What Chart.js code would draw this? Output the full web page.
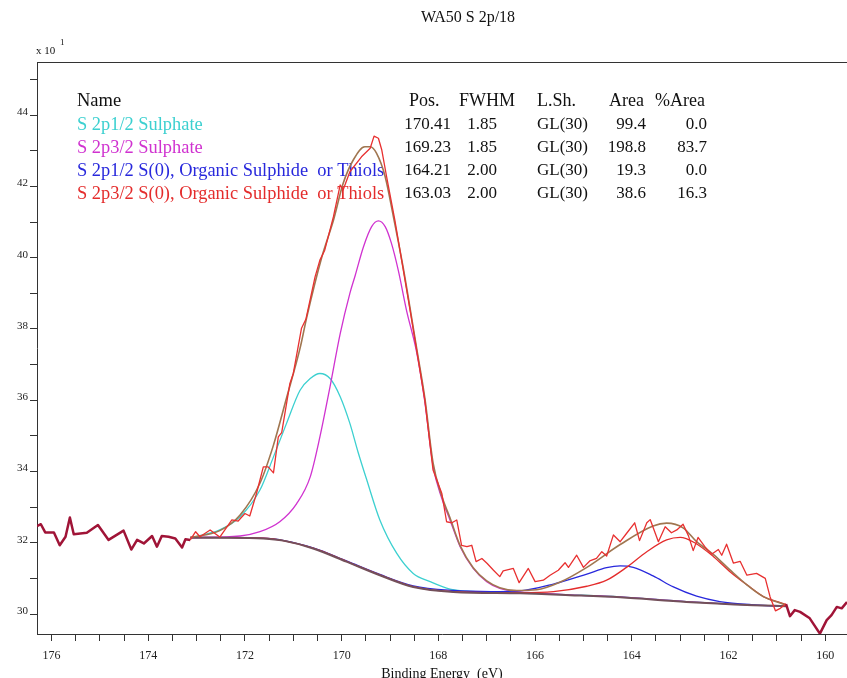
<!DOCTYPE html>
<html>
<head>
<meta charset="utf-8">
<script src="https://cdn.jsdelivr.net/npm/chart.js@4.4.0/dist/chart.umd.min.js"></script>
<style>
  body { margin: 0; background: #fff; }
  #wrap { width: 847px; height: 678px; }
</style>
</head>
<body>
<div id="wrap"><canvas id="lineChart-s2p" width="847" height="678"></canvas></div>
<script>
// tick labels
const xTickLabels = [176, 174, 172, 170, 168, 166, 164, 162, 160];
const yTickLabels = [30, 32, 34, 36, 38, 40, 42, 44];

// fit table
const compNames = ['S 2p1/2 Sulphate', 'S 2p3/2 Sulphate',
  'S 2p1/2 S(0), Organic Sulphide  or Thiols', 'S 2p3/2 S(0), Organic Sulphide  or Thiols'];
const compPos = ['170.41', '169.23', '164.21', '163.03'];
const compFwhm = ['1.85', '1.85', '2.00', '2.00'];
const compShape = ['GL(30)', 'GL(30)', 'GL(30)', 'GL(30)'];
const compArea = ['99.4', '198.8', '19.3', '38.6'];
const compPct = ['0.0', '83.7', '0.0', '16.3'];

// region of the fit (eV)
const fitStart = 173.13;
const fitEnd = 160.81;

// measured spectrum, counts x10^1
const rawEnergy = [176.30, 176.22, 176.13, 175.95, 175.83, 175.71, 175.62, 175.54, 175.27, 175.04,
  174.82, 174.51, 174.35, 174.23, 174.09, 173.92, 173.82, 173.72, 173.58, 173.44, 173.30, 173.23, 173.13,
  173.02, 172.93, 172.72, 172.52, 172.27, 172.14, 172.00, 171.90, 171.76, 171.62, 171.52, 171.41,
  171.31, 171.24, 171.07, 171.00, 170.83, 170.74, 170.55, 170.45, 170.35, 170.17, 170.03, 169.97,
  169.83, 169.59, 169.41, 169.33, 169.24, 169.17, 169.07, 168.90, 168.76, 168.62, 168.45, 168.28,
  168.11, 167.93, 167.83, 167.72, 167.62, 167.52, 167.41, 167.31, 167.22, 167.10, 166.99, 166.86,
  166.73, 166.66, 166.45, 166.33, 166.14, 166.00, 165.83, 165.69, 165.52, 165.38, 165.31, 165.14,
  165.00, 164.87, 164.73, 164.62, 164.52, 164.38, 164.24, 164.11, 163.94, 163.84, 163.69, 163.62,
  163.45, 163.31, 163.18, 163.07, 162.94, 162.83, 162.73, 162.63, 162.49, 162.35, 162.21, 162.14,
  162.04, 161.90, 161.76, 161.62, 161.42, 161.24, 161.14, 161.03, 160.93, 160.81,
  160.73, 160.63, 160.52, 160.32, 160.11, 159.97, 159.87, 159.76, 159.66, 159.55];
const rawCounts = [32.47, 32.52, 32.29, 32.29, 31.93, 32.17, 32.71, 32.24, 32.28, 32.50,
  32.08, 32.34, 31.81, 32.08, 31.98, 32.19, 31.89, 32.19, 32.17, 32.12, 31.87, 32.10, 32.08,
  32.31, 32.17, 32.36, 32.16, 32.64, 32.61, 32.82, 32.75, 33.39, 34.13, 34.13, 33.96,
  34.97, 35.09, 36.47, 36.75, 38.02, 38.27, 39.46, 39.93, 40.21, 41.15, 42.04, 41.90,
  42.41, 42.83, 43.07, 43.41, 43.35, 43.02, 42.27, 41.05, 39.93, 38.81, 37.41, 36.00,
  34.04, 33.39, 32.59, 32.56, 32.64, 31.93, 31.89, 31.93, 31.47, 31.56, 31.42, 31.23,
  31.05, 31.21, 31.28, 30.88, 31.28, 30.91, 30.95, 31.09, 31.23, 31.44, 31.31, 31.65,
  31.31, 31.49, 31.56, 31.75, 31.63, 32.22, 32.03, 32.26, 32.56, 32.06, 32.56, 32.65,
  32.03, 32.45, 32.28, 32.36, 32.52, 32.20, 31.78, 32.15, 31.89, 31.68, 31.81, 31.65,
  31.96, 31.43, 31.48, 31.09, 31.14, 31.00, 30.48, 30.09, 30.16, 30.28,
  29.94, 30.11, 30.06, 29.88, 29.45, 29.83, 29.97, 30.20, 30.16, 30.34];

// envelope of the fit
const envEnergy = [173.13, 172.52, 172.10, 171.69, 171.41, 171.14, 170.86, 170.72, 170.41, 170.17,
  169.97, 169.76, 169.52, 169.41, 169.28, 169.10, 168.93, 168.73, 168.59, 168.45, 168.28, 168.11,
  167.93, 167.76, 167.55, 167.28, 167.00, 166.73, 166.38, 165.97, 165.49, 164.93, 164.24, 163.56,
  163.28, 162.94, 162.66, 162.31, 161.97, 161.62, 161.28, 160.93, 160.81];
const envCounts = [32.15, 32.34, 32.78, 33.67, 34.74, 36.06, 37.46, 38.34, 40.02, 41.05,
  42.08, 42.74, 43.11, 43.11, 42.93, 42.27, 41.15, 39.74, 38.62, 37.46, 36.06, 34.24,
  33.31, 32.70, 31.92, 31.30, 30.93, 30.74, 30.66, 30.68, 30.89, 31.31, 31.95, 32.47,
  32.55, 32.42, 32.03, 31.67, 31.24, 30.82, 30.49, 30.31, 30.25];

// Shirley background
const bgEnergy = [173.13, 172.31, 171.62, 171.21, 170.59, 169.90, 169.21, 168.52, 167.69, 166.31,
  165.28, 164.24, 162.87, 161.49, 160.81];
const bgCounts = [32.14, 32.14, 32.12, 32.06, 31.84, 31.47, 31.09, 30.76, 30.62, 30.58,
  30.53, 30.47, 30.34, 30.25, 30.22];

// components (each drawn on top of the background)
const cyanEnergy = [173.13, 172.93, 172.52, 172.10, 171.69, 171.41, 171.14, 170.86, 170.65, 170.45,
  170.24, 170.03, 169.83, 169.66, 169.48, 169.21, 168.86, 168.52, 168.17, 167.76, 167.41, 166.73,
  166.31, 165.28, 164.24, 162.87, 161.49, 160.81];
const cyanCounts = [32.14, 32.20, 32.36, 32.73, 33.48, 34.41, 35.35, 36.28, 36.61, 36.75,
  36.61, 36.10, 35.35, 34.54, 33.76, 32.64, 31.70, 31.14, 30.91, 30.70, 30.64, 30.61,
  30.59, 30.54, 30.48, 30.35, 30.25, 30.22];

const magEnergy = [173.13, 172.10, 171.69, 171.28, 170.93, 170.65, 170.45, 170.24, 170.03, 169.83,
  169.72, 169.55, 169.38, 169.24, 169.10, 168.97, 168.83, 168.66, 168.45, 168.28, 168.11, 167.93,
  167.76, 167.55, 167.28, 167.00, 166.73, 166.38, 166.04, 165.28, 164.24, 162.87, 161.49, 160.81];
const magCounts = [32.14, 32.19, 32.31, 32.59, 33.10, 33.85, 34.97, 36.38, 37.87, 39.00,
  39.50, 40.30, 40.87, 41.03, 40.87, 40.40, 39.65, 38.53, 37.35, 35.95, 34.15, 33.25,
  32.64, 31.89, 31.28, 30.91, 30.72, 30.63, 30.60, 30.54, 30.48, 30.35, 30.25, 30.22];

const blueEnergy = [173.13, 171.62, 170.59, 169.90, 169.21, 168.52, 167.69, 166.90, 166.31, 165.62,
  164.93, 164.52, 164.24, 163.97, 163.56, 163.14, 162.66, 162.18, 161.49, 160.81];
const blueCounts = [32.15, 32.13, 31.86, 31.49, 31.11, 30.79, 30.66, 30.63, 30.65, 30.84,
  31.12, 31.30, 31.35, 31.31, 31.07, 30.76, 30.50, 30.35, 30.26, 30.22];

const redEnergy = [173.13, 171.62, 170.59, 169.90, 169.21, 168.52, 167.69, 166.31, 165.62, 164.93,
  164.52, 164.11, 163.69, 163.28, 163.00, 162.70, 162.31, 161.97, 161.62, 161.28, 160.93, 160.81];
const redCounts = [32.15, 32.13, 31.85, 31.48, 31.10, 30.77, 30.63, 30.60, 30.63, 30.78,
  30.95, 31.31, 31.75, 32.08, 32.15, 32.00, 31.61, 31.19, 30.82, 30.49, 30.32, 30.27];

const serif = 'Liberation Serif';
const compColors = ['rgb(60,208,208)', 'rgb(208,50,208)', 'rgb(40,40,220)', 'rgb(228,44,44)'];

function toPoints(energy, counts) {
    return energy.map((e, i) => ({ x: e, y: counts[i] }));
}

function inFit(c) {
    return c.p0.parsed.x <= fitStart + 1e-6 && c.p1.parsed.x >= fitEnd - 1e-6;
}

function smoothLine(label, energy, counts, color, width) {
    return {
        label: label,
        data: toPoints(energy, counts),
        borderColor: color,
        borderWidth: width,
        pointRadius: 0,
        cubicInterpolationMode: 'monotone',
        fill: false,
    };
}

// texts: title, exponent, axis title, fit table
const textPlugin = {
    id: 'casaText',
    beforeDatasetsDraw(chart) {
        const ctx = chart.ctx;
        ctx.save();
        ctx.textBaseline = 'middle';
        ctx.fillStyle = '#111';
        ctx.textAlign = 'left';
        ctx.font = '18.5px "' + serif + '"';
        ctx.fillText('Name', 77, 101);
        ctx.font = '18px "' + serif + '"';
        ctx.fillText('Pos.', 409, 101);
        ctx.fillText('FWHM', 459, 101);
        ctx.fillText('L.Sh.', 537, 101);
        ctx.fillText('Area', 609, 101);
        ctx.fillText('%Area', 655, 101);
        for (let i = 0; i < compNames.length; i++) {
            let y = 125 + i * 23;
            ctx.font = '18.4px "' + serif + '"';
            ctx.textAlign = 'left';
            ctx.fillStyle = compColors[i];
            ctx.fillText(compNames[i], 77, y);
            ctx.font = '17px "' + serif + '"';
            ctx.fillStyle = '#111';
            ctx.textAlign = 'right';
            ctx.fillText(compPos[i], 451, y);
            ctx.fillText(compFwhm[i], 497, y);
            ctx.fillText(compArea[i], 646, y);
            ctx.fillText(compPct[i], 707, y);
            ctx.textAlign = 'left';
            ctx.fillText(compShape[i], 537, y);
        }
        ctx.restore();
    },
    afterDraw(chart) {
        const ctx = chart.ctx;
        const area = chart.chartArea;
        ctx.save();
        // top frame line
        ctx.strokeStyle = '#333';
        ctx.lineWidth = 1;
        ctx.beginPath();
        ctx.moveTo(area.left, area.top + 0.5);
        ctx.lineTo(area.right, area.top + 0.5);
        ctx.stroke();

        ctx.fillStyle = '#111';
        ctx.textBaseline = 'middle';
        ctx.textAlign = 'center';
        ctx.font = '16px "' + serif + '"';
        ctx.fillText('WA50 S 2p/18', 468, 18);
        ctx.font = '14px "' + serif + '"';
        ctx.fillText('Binding Energy  (eV)', (area.left + area.right) / 2, 674);
        ctx.textAlign = 'left';
        ctx.font = '11px "' + serif + '"';
        ctx.fillText('x 10', 36, 51);
        ctx.font = '9px "' + serif + '"';
        ctx.fillText('1', 60, 43);
        ctx.restore();
    }
};

let lineCtx_s2p = document.getElementById('lineChart-s2p');
let lineConfig_s2p = {
    type: 'line',
    data: {
        datasets: [{
            label: 'Data',
            data: toPoints(rawEnergy, rawCounts),
            borderColor: 'rgb(160,20,55)',
            borderWidth: 2.5,
            pointRadius: 0,
            tension: 0,
            segment: {
                borderColor: c => inFit(c) ? 'rgb(232,48,48)' : 'rgb(160,20,55)',
                borderWidth: c => inFit(c) ? 1.3 : 2.5,
            },
        },
            smoothLine('Envelope', envEnergy, envCounts, 'rgb(160,118,80)', 1.6),
            smoothLine('Background', bgEnergy, bgCounts, 'rgb(115,80,90)', 2),
            smoothLine(compNames[3], redEnergy, redCounts, compColors[3], 1.3),
            smoothLine(compNames[2], blueEnergy, blueCounts, compColors[2], 1.3),
            smoothLine(compNames[1], magEnergy, magCounts, compColors[1], 1.3),
            smoothLine(compNames[0], cyanEnergy, cyanCounts, compColors[0], 1.3),
        ]
    },
    options: {
        responsive: false,
        animation: false,
        layout: { padding: { top: 62, left: 0, right: 0, bottom: 0 } },
        plugins: { legend: { display: false }, tooltip: { enabled: false } },
        elements: { line: { borderJoinStyle: 'round' } },
        scales: {
            x: {
                type: 'linear',
                reverse: true,
                min: 159.55,
                max: 176.3,
                afterBuildTicks: s => {
                    let t = [];
                    for (let v = 160; v <= 176; v += 0.5) t.push({ value: v });
                    s.ticks = t;
                },
                afterFit: s => { s.height = 44; },
                ticks: {
                    autoSkip: false,
                    maxRotation: 0,
                    padding: 8,
                    color: '#222',
                    font: { family: serif, size: 12 },
                    callback: v => xTickLabels.includes(v) ? String(v) : '',
                },
                grid: { drawOnChartArea: false, tickLength: 7, tickColor: '#333' },
                border: { color: '#333' },
            },
            y: {
                min: 29.44,
                max: 45.49,
                afterBuildTicks: s => {
                    let t = [];
                    for (let v = 30; v <= 45; v += 1) t.push({ value: v });
                    s.ticks = t;
                },
                afterFit: s => { s.width = 37; },
                ticks: {
                    autoSkip: false,
                    padding: 2,
                    labelOffset: -3,
                    color: '#222',
                    font: { family: serif, size: 11 },
                    callback: v => yTickLabels.includes(v) ? String(v) : '',
                },
                grid: { drawOnChartArea: false, tickLength: 7, tickColor: '#333' },
                border: { color: '#333' },
            }
        }
    },
    plugins: [textPlugin]
};
let lineChart_s2p = new Chart(lineCtx_s2p, lineConfig_s2p);
</script>
</body>
</html>
